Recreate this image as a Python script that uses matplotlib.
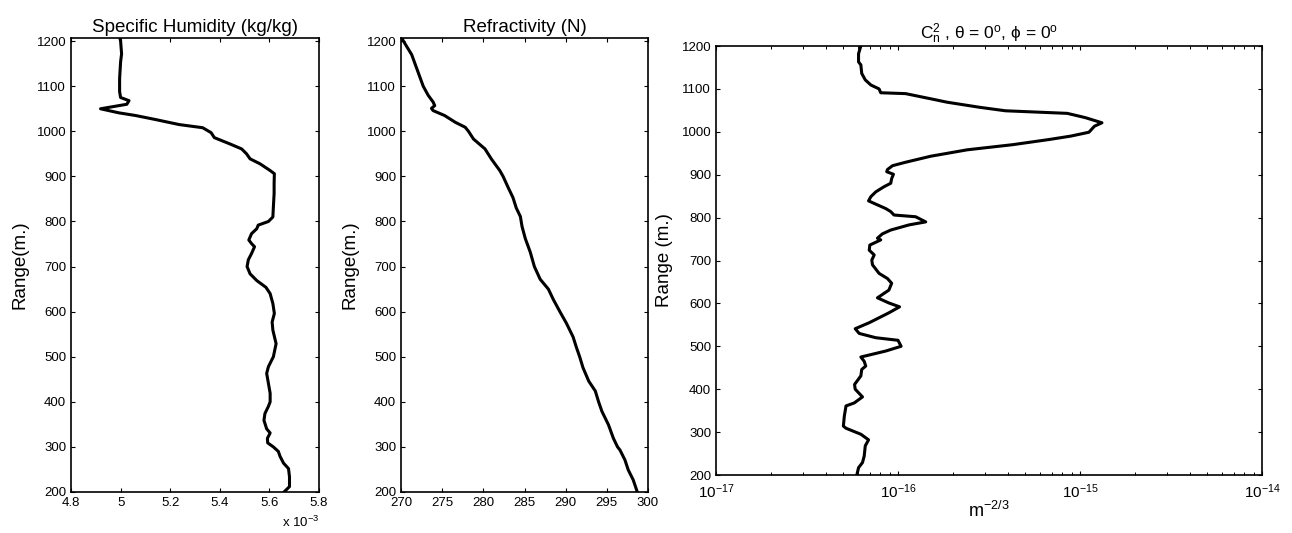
import matplotlib
matplotlib.use("Agg")
import matplotlib.pyplot as plt
import numpy as np
from matplotlib.ticker import FormatStrFormatter, LogLocator

plt.rcParams['font.family'] = ['Liberation Sans', 'DejaVu Sans']
plt.rcParams['mathtext.fontset'] = 'custom'
plt.rcParams['mathtext.rm'] = 'Liberation Sans'
plt.rcParams['mathtext.it'] = 'Liberation Sans:italic'
plt.rcParams['mathtext.bf'] = 'Liberation Sans:bold'

# --- specific humidity (x 1e-3 kg/kg) vs range (m)
hum_range = [200, 212, 234, 252, 264, 279, 290, 300, 309, 319, 331, 340, 359, 374,
             390, 400, 419, 441, 463, 478, 500, 529, 559, 577, 596, 618, 640, 654,
             669, 684, 700, 715, 729, 744, 751, 759, 773, 784, 792, 800, 810, 832,
             862, 884, 906, 913, 928, 939, 950, 961, 972, 986, 997, 1008, 1015,
             1026, 1035, 1041, 1050, 1060, 1068, 1075, 1088, 1117, 1154, 1172,
             1200, 1207]
hum_e3 = [5.659, 5.681, 5.681, 5.677, 5.657, 5.643, 5.636, 5.616, 5.593, 5.592,
          5.603, 5.589, 5.578, 5.582, 5.596, 5.603, 5.603, 5.596, 5.589, 5.596,
          5.616, 5.627, 5.614, 5.611, 5.620, 5.614, 5.603, 5.586, 5.549, 5.522,
          5.510, 5.515, 5.528, 5.540, 5.528, 5.517, 5.528, 5.549, 5.555, 5.596,
          5.614, 5.616, 5.619, 5.619, 5.620, 5.603, 5.562, 5.522, 5.508, 5.488,
          5.441, 5.378, 5.365, 5.331, 5.236, 5.142, 5.061, 4.993, 4.919, 5.025,
          5.034, 5.000, 4.996, 4.996, 5.000, 5.004, 5.000, 4.997]

# --- refractivity (N units) vs range (m)
ref_range = [200, 227, 249, 271, 293, 300, 319, 349, 379, 400, 424, 446, 476, 500,
             521, 544, 574, 600, 627, 650, 672, 700, 732, 762, 789, 811, 830, 853,
             876, 900, 913, 938, 961, 983, 1000, 1009, 1020, 1035, 1046, 1051,
             1057, 1065, 1080, 1100, 1140, 1170, 1200, 1207]
refractivity = [298.7, 298.2, 297.6, 297.2, 296.6, 296.3, 295.8, 295.2, 294.4, 294.0,
                293.6, 292.8, 292.1, 291.7, 291.3, 290.9, 290.1, 289.3, 288.5, 287.9,
                286.9, 286.2, 285.7, 285.1, 284.7, 284.5, 284.0, 283.6, 283.0, 282.4,
                282.0, 281.0, 280.2, 278.8, 278.2, 277.8, 276.6, 275.3, 273.9, 273.7,
                274.1, 273.9, 273.3, 272.7, 271.9, 271.3, 270.3, 270.1]

# --- Cn2 (m^-2/3) vs range (m)
cn2_range = [1200, 1182, 1163, 1156, 1136, 1121, 1109, 1100, 1091, 1089, 1077, 1069,
             1057, 1049, 1043, 1033, 1021, 1013, 999, 990, 982, 970, 958, 943, 929,
             921, 912, 907, 901, 891, 880, 872, 860, 849, 839, 833, 821, 814, 806,
             802, 790, 783, 771, 762, 752, 748, 736, 724, 713, 701, 690, 670, 658,
             647, 631, 613, 601, 592, 578, 555, 541, 530, 520, 514, 500, 489, 475,
             465, 454, 446, 431, 411, 400, 382, 368, 361, 337, 314, 309, 295, 282,
             268, 244, 229, 217, 200]
cn2 = [6.25e-17, 6.07e-17, 6.07e-17, 6.25e-17, 6.32e-17, 6.61e-17, 7.10e-17, 7.87e-17,
       8.04e-17, 1.10e-16, 1.51e-16, 1.86e-16, 2.82e-16, 3.89e-16, 8.51e-16, 1.07e-15,
       1.32e-15, 1.20e-15, 1.12e-15, 8.91e-16, 6.76e-16, 4.27e-16, 2.40e-16, 1.51e-16,
       1.10e-16, 9.33e-17, 8.75e-17, 8.67e-17, 9.44e-17, 9.23e-17, 9.12e-17, 8.38e-17,
       7.55e-17, 7.10e-17, 6.89e-17, 7.40e-17, 8.57e-17, 9.12e-17, 9.51e-17, 1.25e-16,
       1.42e-16, 1.15e-16, 9.12e-17, 8.20e-17, 7.71e-17, 8.04e-17, 7.00e-17, 6.95e-17,
       7.40e-17, 7.18e-17, 7.24e-17, 7.87e-17, 8.75e-17, 9.23e-17, 8.91e-17, 7.71e-17,
       8.91e-17, 1.02e-16, 8.91e-17, 6.95e-17, 5.82e-17, 6.12e-17, 7.55e-17, 1.00e-16,
       1.04e-16, 8.57e-17, 6.25e-17, 6.52e-17, 6.65e-17, 6.32e-17, 6.25e-17, 5.77e-17,
       5.82e-17, 6.38e-17, 5.75e-17, 5.18e-17, 5.07e-17, 5.01e-17, 5.18e-17, 6.25e-17,
       6.89e-17, 6.61e-17, 6.52e-17, 6.38e-17, 6.07e-17, 5.94e-17]

range_ticks = np.arange(200, 1201, 100)

W, H = 1292, 533
fig = plt.figure(figsize=(W / 100, H / 100), dpi=100)


def px_axes(left, top, right, bottom):
    # axes box given in figure pixels measured from the top-left corner
    return fig.add_axes([left / W, 1 - bottom / H, (right - left) / W, (bottom - top) / H])


def style(ax):
    ax.tick_params(direction='in', top=True, right=True, length=3.0, width=0.8,
                   labelsize=9.5)
    ax.tick_params(axis='x', pad=3.5)
    ax.tick_params(axis='y', pad=3.5)
    for s in ax.spines.values():
        s.set_linewidth(1.2)
    ax.set_yticks(range_ticks)


line_kw = dict(color='black', lw=2.2)

# panel 1: specific humidity
ax1 = px_axes(71, 38, 319, 492)
ax1.plot(hum_e3, hum_range, **line_kw)
ax1.set_xlim(4.8, 5.8)
ax1.set_ylim(200, 1207)
ax1.set_xticks(np.arange(4.8, 5.81, 0.2))
ax1.xaxis.set_major_formatter(FormatStrFormatter('%g'))
style(ax1)
ax1.set_title('Specific Humidity (kg/kg)', fontsize=13.5, pad=4)
ax1.set_ylabel('Range(m.)', fontsize=13.5, labelpad=6)
ax1.text(1.0, -0.078, r'x 10$^{-3}$', transform=ax1.transAxes, ha='right',
         va='baseline', fontsize=9.5)

# panel 2: refractivity
ax2 = px_axes(401, 38, 648, 492)
ax2.plot(refractivity, ref_range, **line_kw)
ax2.set_xlim(270, 300)
ax2.set_ylim(200, 1207)
ax2.set_xticks(np.arange(270, 301, 5))
style(ax2)
ax2.set_title('Refractivity (N)', fontsize=13.5, pad=4)
ax2.set_ylabel('Range(m.)', fontsize=13.5, labelpad=6)

# panel 3: Cn2 on log axis
ax3 = px_axes(716, 46, 1262, 475)
ax3.semilogx(cn2, cn2_range, **line_kw)
ax3.set_xlim(1e-17, 1e-14)
ax3.set_ylim(200, 1200)
ax3.xaxis.set_major_locator(LogLocator(base=10, numticks=10))
ax3.xaxis.set_minor_locator(LogLocator(base=10, subs=np.arange(2, 10), numticks=20))
style(ax3)
ax3.tick_params(axis='x', labelsize=11, pad=5)
ax3.tick_params(which='minor', direction='in', top=True, length=2.5, width=0.7)
ax3.set_title(r'C$^2_\mathrm{n}$ , θ = 0$^\mathrm{o}$, ϕ = 0$^\mathrm{o}$',
              fontsize=12.5, pad=5)
ax3.set_ylabel('Range (m.)', fontsize=13.5, labelpad=6)
ax3.set_xlabel(r'm$^{-2/3}$', fontsize=13, labelpad=0)

fig.savefig('out.png', dpi=100)
